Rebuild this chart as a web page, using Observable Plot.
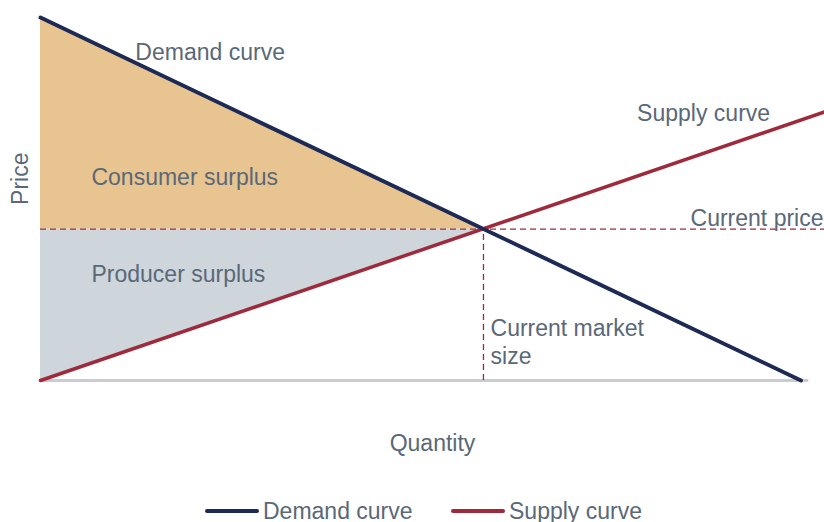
<!DOCTYPE html>
<html><head><meta charset="utf-8">
<script src="https://cdn.jsdelivr.net/npm/d3@7"></script>
<script src="https://cdn.jsdelivr.net/npm/@observablehq/plot@0.6"></script>
<style>
body{margin:0;background:#fff;font-family:"Liberation Sans",Arial,sans-serif;}
#wrap{position:relative;width:824px;height:522px;overflow:hidden;}
#legend{position:absolute;top:497px;left:0;width:824px;height:28px;font-size:23px;color:#5a6878;}
.item{position:absolute;top:0;display:flex;align-items:center;height:28px;}
.sw{width:54px;height:4px;border-radius:2px;margin-right:4px;}
</style>
</head><body>
<div id="wrap"><div id="chart"></div>
<div id="legend">
 <div class="item" style="left:205px"><div class="sw" style="background:#1c2a55"></div>Demand curve</div>
 <div class="item" style="left:451px"><div class="sw" style="background:#9e2a3c"></div>Supply curve</div>
</div></div>
<script>
// Quantity / price units (0-100)
const demandQ = [0, 97];
const demandP = [100, 0];
const supplyQ = [0, 100];
const supplyP = [0, 74];
const eqQ = 56.5;
const eqP = 41.7;
const labelText = ["Demand curve", "Consumer surplus", "Producer surplus", "Supply curve", "Current market\nsize"];
const labelQ = [12.1, 6.5, 6.5, 76.1, 57.4];
const labelP = [90.9, 56.2, 29.5, 74.1, 11.0];

const demand = demandQ.map((q, i) => ({q, p: demandP[i]}));
const supply = supplyQ.map((q, i) => ({q, p: supplyP[i]}));
const consumer = [{q: 0, lo: eqP, hi: demandP[0]}, {q: eqQ, lo: eqP, hi: eqP}];
const producer = [{q: 0, lo: supplyP[0], hi: eqP}, {q: eqQ, lo: eqP, hi: eqP}];
const labels = labelText.map((t, i) => ({t, q: labelQ[i], p: labelP[i]}));
const txt = "#5a6878";

const chart = Plot.plot({
  width: 824, height: 470,
  marginLeft: 40, marginRight: 0, marginTop: 17, marginBottom: 90,
  style: {fontFamily: "Liberation Sans, Arial, sans-serif", fontSize: "23px", background: "#fff"},
  x: {domain: [0, 100], axis: null},
  y: {domain: [0, 100], axis: null},
  marks: [
    Plot.areaY(consumer, {x: "q", y1: "lo", y2: "hi", fill: "#e8c490"}),
    Plot.areaY(producer, {x: "q", y1: "lo", y2: "hi", fill: "#ced5db"}),
    Plot.ruleY([0], {x1: 0, x2: 98, stroke: "#c9ccd3", strokeWidth: 3}),
    Plot.ruleY([eqP], {x1: 0, x2: 100, stroke: "#9e2a3c", strokeWidth: 1.3, strokeDasharray: "6,4"}),
    Plot.ruleX([eqQ], {y1: 0, y2: eqP, stroke: "#9e2a3c", strokeWidth: 1.3, strokeDasharray: "6,4"}),
    Plot.line(supply, {x: "q", y: "p", stroke: "#9e2a3c", strokeWidth: 3.5}),
    Plot.line(demand, {x: "q", y: "p", stroke: "#1c2a55", strokeWidth: 4}),
    Plot.text(labels, {x: "q", y: "p", text: "t", textAnchor: "start", fill: txt, fontSize: 23, lineHeight: 1.22}),
    Plot.text(["Current price"], {x: 100, y: 44.6, textAnchor: "end", dx: -1, fill: txt, fontSize: 23}),
    Plot.text(["Quantity"], {x: 50, frameAnchor: "bottom", lineAnchor: "middle", dy: 63, fill: txt, fontSize: 23}),
    Plot.text(["Price"], {y: 55.6, frameAnchor: "left", textAnchor: "middle", lineAnchor: "middle", dx: -20, rotate: -90, fill: txt, fontSize: 23})
  ]
});
document.getElementById("chart").append(chart);
</script>
</body></html>
